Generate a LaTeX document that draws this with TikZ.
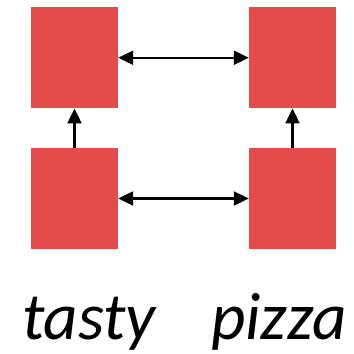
\documentclass[tikz,border=0pt]{standalone}
\usepackage{fontspec}
\setmainfont{Carlito}
\usetikzlibrary{arrows.meta}
\definecolor{boxred}{HTML}{E44B4B}
\begin{document}
\begin{tikzpicture}[x=1pt,y=1pt,
  blk/.style={fill=boxred,draw=none,minimum width=87pt,minimum height=101pt,inner sep=0pt},
  conn/.style={line width=2.2pt,{Triangle[length=15pt,width=14pt]}-{Triangle[length=15pt,width=14pt]}},
  up/.style={line width=2.2pt,-{Triangle[length=15pt,width=14pt]}},
  word/.style={font=\fontsize{67}{75}\selectfont\itshape,anchor=base,inner sep=0pt}]
\useasboundingbox (0,0) rectangle (354,354);
\node[blk] (tl) at (74.5,296.25) {};
\node[blk] (tr) at (292.5,296.25) {};
\node[blk] (bl) at (74.5,155.5) {};
\node[blk] (br) at (292.5,155.5) {};
\draw[conn] (tl.east) -- (tr.west);
\draw[conn] (bl.east) -- (br.west);
\draw[up] (bl.north) -- (tl.south);
\draw[up] (br.north) -- (tr.south);
\node[word] (w1) at (89,14) {tasty};
\node[word] (w2) at (279,14) {pizza};
\end{tikzpicture}
\end{document}
